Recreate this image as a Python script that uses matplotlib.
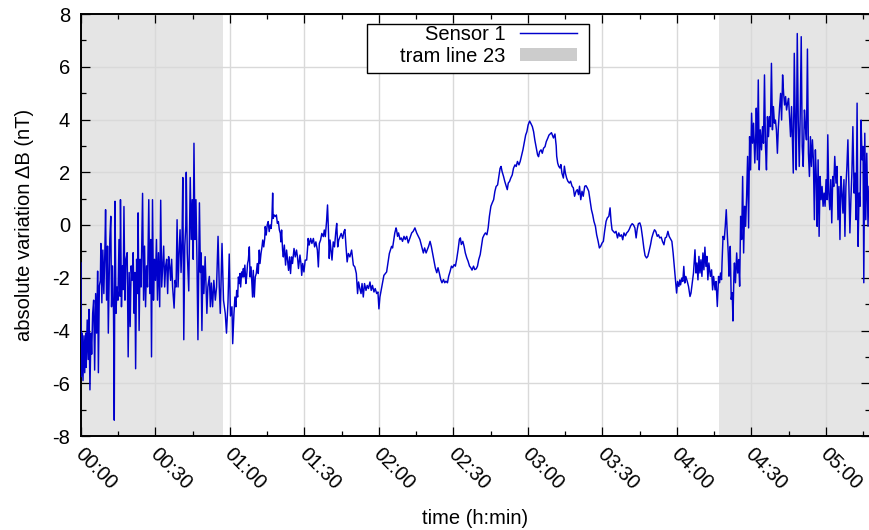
import numpy as np
import matplotlib
matplotlib.use("Agg")
import matplotlib.pyplot as plt
from matplotlib.ticker import MultipleLocator, FuncFormatter
from matplotlib.patches import Patch, Rectangle
from matplotlib.transforms import ScaledTranslation

plt.rcParams['font.family'] = ['Liberation Sans', 'DejaVu Sans']
plt.rcParams['axes.unicode_minus'] = False

# ---- magnetometer record, time in minutes since 00:00, dB in nT ----
# first tram period
t_early = [0, 0.13, 0.5, 0.8, 1.2, 1.5, 1.9, 2.1, 2.5, 2.9,
           3.2, 3.6, 4.0, 4.3, 4.7, 5.1, 5.5, 5.9, 6.3, 6.7,
           7.0, 7.4, 7.8, 8.0, 8.4, 8.8, 9.2, 9.6, 9.9, 10.3,
           10.7, 11.0, 11.4, 11.6, 12.0, 12.3, 12.7, 13.1, 13.4, 13.7,
           14.1, 14.5, 14.9, 15.3, 15.7, 15.9, 16.3, 16.7, 17.0, 17.3,
           17.7, 18.1, 18.6, 19.0, 19.4, 19.8, 20.2, 20.6, 21.0, 21.4,
           21.7, 22.0, 22.4, 22.8, 23.0, 23.4, 23.8, 24.2, 24.5, 24.8,
           25.2, 25.6, 26.0, 26.4, 26.8, 27.3, 27.7, 28.1, 28.4, 28.8,
           29.2, 29.6, 30.0, 30.4, 30.8, 31.2, 31.7, 32.1, 32.5, 32.9,
           33.3, 33.7, 34.1, 34.5, 34.9, 35.3, 35.7, 36.1, 36.5, 36.9,
           37.5, 37.9, 38.3, 38.7, 39.1, 39.5, 39.9, 40.3, 40.7, 41.0,
           41.4, 41.8, 42.2, 42.4, 42.8, 43.4, 43.8, 44.0, 44.4, 44.8,
           45.2, 45.5, 45.9, 46.3, 46.7, 47.1, 47.7, 48.1, 48.3, 48.7,
           49.1, 49.5, 50.0, 50.7, 51.1, 51.7, 52.1, 52.5, 53.0, 53.5,
           54.1, 54.6, 55.2, 55.7, 56.1, 56.8, 57.4, 58.1, 58.6, 59.2,
           59.7, 60.2, 60.8]
dB_early = [-1.44, -5.75, -4.1, -5.9, -4.2, -5.6, -4.1, -5.4, -3.6, -5.1,
            -3.2, -6.25, -4.1, -4.9, -3.35, -2.85, -5.5, -2.6, -4.1, -1.75,
            -5.6, -2.3, -2.1, -0.7, -2.95, -0.95, -2.6, -1.05, 0.58, -2.85,
            -0.8, -4.1, -1.55, -0.55, 0.33, -3.1, -1.55, -3.35, -7.4, 0.9,
            -3.35, -2.35, -2.85, -0.55, -2.7, 0.96, -3.1, -1.55, -2.45, 0.7,
            -2.85, -1.3, -1.05, -5.0, -1.8, -3.85, -1.55, -2.1, -1.05, -3.35,
            -1.8, -5.45, -1.3, -2.6, 0.46, -4.0, -1.3, -2.35, -0.55, 1.2,
            -2.85, -0.8, -3.1, -1.55, -2.35, 0.96, -2.6, -0.55, -5.0, 0.96,
            -2.85, -1.3, -2.1, -0.55, -2.85, -1.05, -3.1, 0.94, -2.35, -1.55,
            -0.8, -2.35, -1.55, -1.3, -2.6, -1.2, -1.55, -2.1, -1.3, -2.35,
            -3.15, -2.1, -2.35, 0.2, -2.35, -1.05, -0.18, -1.8, -0.55, 1.8,
            -4.35, -0.8, -0.05, 2.0, -1.05, -2.5, 0.2, 1.8, -0.55, 0.96,
            -1.3, 3.1, -0.55, 0.96, -1.3, -4.35, 0.84, -1.8, -1.05, -4.0,
            -1.55, -2.6, -1.2, -3.35, -2.35, -1.95, -3.1, -2.2, -3.1, -2.1,
            -2.85, -2.35, -0.43, -2.35, -3.35, -0.7, -2.85, -3.35, -4.1, -2.95,
            -1.1, -3.45, -3.1]

# quiet interval between tram periods
t_quiet = [61.1, 61.6, 62.0, 62.4, 62.7, 63.1, 63.4, 63.8, 64.0, 64.3,
           64.7, 65.1, 65.4, 65.6, 66.0, 66.4, 66.7, 67.1, 67.4, 67.8,
           68.1, 68.5, 68.9, 69.1, 69.4, 69.8, 70.2, 70.6, 71.0, 71.4,
           71.8, 72.1, 72.5, 72.9, 73.2, 73.6, 74.0, 74.2, 74.6, 75.0,
           75.4, 75.8, 76.2, 76.6, 76.9, 77.2, 77.4, 77.8, 78.3, 78.7,
           79.1, 79.5, 79.9, 80.3, 80.5, 80.8, 81.2, 81.5, 81.9, 82.4,
           82.8, 83.2, 83.6, 84.0, 84.4, 84.8, 85.2, 85.8, 86.3, 86.8,
           87.2, 87.6, 88.2, 88.6, 88.9, 89.3, 89.8, 90.3, 90.9, 91.3,
           91.5, 91.9, 92.5, 93.0, 93.6, 94.1, 94.6, 95.2, 95.6, 96.0,
           96.5, 97.0, 97.6, 98.0, 98.4, 98.9, 99.3, 99.7, 100.0, 100.3,
           100.7, 101.1, 101.6, 102.1, 102.7, 103.0, 103.4, 103.8, 104.3, 104.8,
           105.4, 105.9, 106.3, 106.7, 107.2, 107.7, 108.3, 109.0, 109.7, 110.3,
           110.9, 111.4, 111.8, 112.3, 112.8, 113.2, 113.7, 114.2, 114.8, 115.3,
           115.8, 116.4, 116.9, 117.4, 118.0, 118.5, 119.1, 119.6, 120.0, 120.4,
           120.9, 121.5, 122.0, 122.6, 123.1, 123.6, 124.2,
           125.1, 125.5, 126.0, 126.4, 126.9, 127.1, 127.5, 127.9, 128.5, 129.0,
           129.5, 130.1, 130.6, 131.2, 131.8, 132.5, 133.2, 133.8, 134.5, 135.2,
           135.9, 136.5, 137.2, 137.9, 138.4, 139.0, 139.5, 140.0, 140.6, 141.1,
           141.7, 142.2, 142.7, 143.3, 143.8, 144.3, 144.9, 145.4, 146.0, 146.5,
           147.0, 147.6, 148.1, 148.7, 149.2, 149.7, 150.3, 150.8, 151.3, 151.9,
           152.4, 152.8, 153.2, 153.8, 154.3, 154.8, 155.4, 155.9, 156.5, 157.0,
           157.5, 158.1, 158.6, 159.2, 159.7, 160.2, 160.8, 161.3, 161.8, 162.4,
           162.9, 163.5, 164.0, 164.5, 165.1, 165.6, 166.2, 166.7, 167.2, 167.8,
           168.3, 168.8, 169.2, 169.6, 170.2, 170.7, 171.3, 171.7, 172.1, 172.6,
           173.1, 173.7, 174.2, 174.8, 175.3, 175.8, 176.4, 176.9, 177.5, 178.0,
           178.5, 179.1, 179.6, 180.1, 180.7, 181.2, 181.8, 182.3, 182.8, 183.4,
           183.9, 184.3, 184.7, 185.3, 185.8, 186.3, 186.9, 187.4, 188.0, 188.5,
           189.5, 190.3, 190.9, 191.4,
           191.6, 192.0, 192.4, 192.9, 193.3, 193.7, 194.3, 194.7, 195.1, 195.6,
           196.1, 196.7, 197.2, 197.8, 198.3, 198.8, 199.4, 199.9, 200.4, 200.8,
           201.3, 201.8, 202.3, 202.9, 203.4, 203.9, 204.5, 205.0, 205.6, 206.1,
           206.6, 207.2, 207.7, 208.3, 208.8, 209.3, 209.9, 210.4, 210.9, 211.5,
           212.0, 212.6, 213.1, 213.5, 213.9, 214.4, 215.0, 215.5, 216.1, 216.6,
           217.1, 217.7, 218.2, 218.7, 219.3, 219.8, 220.4, 220.9, 221.4, 222.0,
           222.5, 223.1, 223.6, 224.0, 224.5, 225.1, 225.6, 226.2, 226.7, 227.2,
           227.8, 228.3, 228.8, 229.4, 229.9, 230.5, 231.0, 231.5, 232.1, 232.6,
           233.1, 233.7, 234.2, 234.8, 235.3, 235.8, 236.4, 236.9, 237.5, 238.0,
           238.5, 239.1, 239.5, 239.9, 240.3, 240.8, 241.2, 241.5, 242.0, 242.4,
           242.8, 243.2, 243.6, 244.2, 244.7, 245.3, 245.7, 246.2, 246.7, 247.3,
           247.7, 248.1, 248.5, 248.9, 249.3, 249.7, 250.1, 250.5, 250.9, 251.3,
           251.7, 252.1, 252.5, 252.9, 253.5, 254.0, 254.4, 254.8, 255.4, 255.8,
           256.3, 256.8]
dB_quiet = [-4.5, -3.37, -2.73, -3.1, -2.48, -2.73, -1.97, -2.22, -1.84, -2.35,
            -1.78, -1.97, -1.65, -1.97, -1.52, -2.22, -1.97, -1.46, -1.33, -0.83,
            -1.97, -1.59, -2.35, -2.73, -1.72, -2.73, -1.97, -1.84, -1.46, -1.84,
            -0.95, -1.46, -1.08, -0.83, -0.57, -0.83, -0.51, -0.06, -0.38, 0.0,
            0.13, -0.25, 0.0, -0.13, 0.25, 1.21, 0.25, 0.38, 0.32, 0.38,
            0.06, 0.13, -0.19, -0.32, -0.64, -0.19, -0.95, -1.21, -0.76, -1.52,
            -0.95, -1.33, -1.72, -1.21, -1.84, -1.21, -1.46, -0.89, -1.21, -0.95,
            -1.21, -1.65, -1.14, -1.46, -1.91, -1.46, -1.78, -1.33, -1.33, -0.83,
            -0.51, -0.76, -0.51, -0.70, -0.51, -0.83, -0.64, -0.95, -1.59, -0.70,
            -0.57, -0.32, -0.44, -0.19, -0.44, 0.13, 0.76, -0.32, -1.27, -0.57,
            -0.95, -1.33, -0.64, -0.83, -0.19, 0.06, -0.83, -0.57, -0.44, -0.32,
            -0.51, -0.25, -0.17, -0.76, -1.4, -1.08, -1.21, -0.95, -1.52, -1.59,
            -1.84, -2.6, -2.16, -2.41, -2.6, -2.22, -2.73, -2.22, -2.48, -2.29,
            -2.41, -2.16, -2.48, -2.29, -2.54, -2.41, -2.6, -2.54, -3.18, -2.73,
            -2.48, -2.16, -1.91, -1.84, -1.78, -1.46, -1.08,
            -0.81, -0.87, -0.55, -0.30, -0.11, -0.18, -0.43, -0.30, -0.55, -0.49,
            -0.62, -0.43, -0.55, -0.43, -0.68, -0.49, -0.30, -0.24, -0.11, -0.30,
            -0.43, -0.55, -0.81, -1.06, -0.87, -1.06, -0.93, -0.81, -0.62, -0.81,
            -1.12, -1.37, -1.62, -1.81, -1.62, -1.81, -2.07, -2.19, -2.07, -2.19,
            -2.13, -2.19, -1.94, -1.75, -1.56, -1.62, -1.50, -1.56, -1.31, -0.93,
            -0.55, -0.49, -0.74, -0.62, -0.81, -1.06, -1.25, -1.37, -1.56, -1.62,
            -1.71, -1.56, -1.69, -1.66, -1.56, -1.31, -1.12, -0.81, -0.49, -0.37,
            -0.30, -0.37, -0.11, 0.33, 0.71, 0.83, 0.96, 1.27, 1.46, 1.52,
            1.84, 2.15, 2.22, 2.03, 1.84, 1.65, 1.46, 1.34, 1.59, 1.65,
            1.78, 1.90, 2.15, 2.28, 2.22, 2.41, 2.28, 2.41, 2.66, 2.85,
            3.10, 3.41, 3.54, 3.79, 3.94, 3.85, 3.73, 3.54, 3.22, 2.91,
            2.66, 2.59, 2.78, 2.85, 2.72, 2.91, 2.97, 3.16, 3.29, 3.41,
            3.5, 3.3, 3.45, 3.0,
            2.61, 2.35, 2.23, 2.16, 2.29, 1.97, 1.78, 2.23, 1.97, 1.78,
            1.66, 1.59, 1.66, 1.47, 1.41, 1.09, 1.28, 1.34, 1.15, 1.47,
            0.96, 1.28, 1.09, 1.47, 1.49, 1.41, 1.28, 0.96, 0.58, 0.39,
            0.14, -0.05, -0.37, -0.62, -0.87, -0.81, -0.68, -0.62, -0.24, 0.14,
            0.27, 0.33, 0.65, 0.14, -0.18, -0.24, -0.30, -0.24, -0.49, -0.30,
            -0.43, -0.37, -0.56, -0.30, -0.41, -0.30, -0.24, -0.15, -0.03, 0.05,
            0.01, -0.11, -0.49, -0.18, 0.05, 0.08, -0.08, -0.49, -0.87, -1.16,
            -1.25, -1.19, -1.00, -0.75, -0.49, -0.30, -0.18, -0.24, -0.43, -0.37,
            -0.49, -0.46, -0.62, -0.75, -0.49, -0.46, -0.24, -0.43, -0.53, -0.62,
            -1.06, -1.70, -2.14, -2.58, -2.14, -2.33, -2.08, -2.27, -2.01, -2.14,
            -1.57, -2.20, -1.95, -2.14, -2.33, -2.71, -2.58, -2.20, -1.82, -0.94,
            -1.82, -1.44, -2.08, -1.19, -1.82, -1.32, -1.95, -1.06, -1.70, -0.84,
            -1.57, -1.19, -2.08, -1.44, -1.95, -1.70, -2.46, -1.95, -2.46, -2.14,
            -3.09, -1.95]

# second tram period
t_late = [257.2, 257.6, 258.0, 258.2, 258.6, 259.1, 259.5, 259.9, 260.3, 260.7,
          261.0, 261.2, 261.5, 261.9, 262.3, 262.6, 263.0, 263.2, 263.6, 264.1,
          264.5, 264.9, 265.3, 265.7, 266.1, 266.5, 266.9, 267.3, 267.7, 268.1,
          268.5, 268.9, 269.3, 269.7, 270.1, 270.5, 270.9, 271.4, 271.8, 272.0,
          272.4, 272.8, 273.2, 273.6, 274.1, 274.5, 274.9, 275.3, 275.7, 276.1,
          276.5, 276.9, 277.3, 277.7, 278.1, 278.5, 278.9, 279.3, 279.7, 280.1,
          280.5, 280.9, 281.4, 281.8, 282.2, 282.6, 283.0, 283.4, 283.8, 284.2,
          284.6, 285.0, 285.4, 285.8, 286.2, 286.6, 286.9, 287.3, 287.7, 288.1,
          288.5, 288.9, 289.3, 289.7, 290.1, 290.5, 290.9, 291.4, 291.8, 292.2,
          292.6, 293.0, 293.4, 293.8, 294.2, 294.6, 295.0, 295.4, 295.8, 296.2,
          296.5, 296.9, 297.3, 297.7, 298.1, 298.5, 298.9, 299.3, 299.7, 300.1,
          300.5, 300.8, 301.2, 301.6, 302.0, 302.4, 302.8, 303.2, 303.6, 304.1,
          304.5, 304.9, 305.3, 305.7, 306.1, 306.5, 306.9, 307.3, 307.7, 308.1,
          308.5, 308.9, 309.3, 309.7, 310.1, 310.5, 310.9, 311.4, 311.8, 312.2,
          312.6, 313.0, 313.4, 313.8, 314.2, 314.6, 315.0, 315.3, 315.7, 316.1,
          316.5, 317.0, 317.4]
dB_late = [-2.19, -1.82, -2.07, -1.44, -0.43, -0.55, -0.05, 0.58, -0.30, -1.06,
           -1.94, -1.56, -0.81, -2.82, -2.57, -3.64, -1.82, -1.44, -2.19, -1.06,
           -1.82, -1.31, -2.32, 0.33, -0.55, 1.84, -1.06, 0.71, -0.05, 1.08,
           2.60, -0.11, 3.35, 2.09, 4.24, 3.10, 3.86, 2.35, 3.48, 4.43,
           2.47, 5.50, 2.09, 3.61, 2.85, 3.73, 3.10, 5.69, 2.98, 2.09,
           4.11, 3.35, 4.11, 3.73, 6.13, 3.61, 4.49, 3.86, 3.98, 3.61,
           2.72, 3.73, 4.49, 4.99, 3.98, 5.69, 4.99, 4.55, 4.87, 4.36,
           4.62, 4.80, 4.11, 3.35, 4.49, 2.98, 1.97, 6.51, 3.98, 2.09,
           7.26, 3.98, 2.22, 4.24, 7.14, 2.98, 2.22, 4.36, 3.73, 3.23,
           6.67, 2.72, 1.84, 3.35, 2.22, 3.23, 2.47, 0.20, 2.85, 1.72,
           -0.05, 2.47, -0.43, 1.84, 0.96, 1.46, 0.71, 1.21, 0.71, 1.72,
           0.96, 3.42, 1.21, 0.58, 1.72, 0.08, 1.84, 1.46, 2.60, 1.59,
           2.22, 0.20, 1.46, -0.55, 1.84, 1.21, 0.45, 1.72, -0.43, 1.46,
           2.22, 3.23, 1.46, -0.30, 0.96, 1.97, 3.73, 1.21, 1.97, 0.20,
           4.62, -0.81, 1.21, 0.71, 3.98, 2.47, 2.98, -2.19, 3.48, 0.20,
           2.72, -0.05, 1.46]

# periods during which tram line 23 was running (minutes)
tram_start = [0.0, 257.0]
tram_end = [57.2, 320.0]

t_all = np.concatenate([t_early, t_quiet, t_late])
dB_all = np.concatenate([dB_early, dB_quiet, dB_late])

FS = 14.5

fig = plt.figure(figsize=(8.69, 5.30), dpi=100)
ax = fig.add_axes([81 / 869, 94 / 530, 789 / 869, 422 / 530])

for a, b in zip(tram_start, tram_end):
    ax.axvspan(a, b, color='#e5e5e5', lw=0, zorder=0)

line, = ax.plot(t_all, dB_all, color='#0000cc', lw=1.05, zorder=3)

ax.set_xlim(0, 317.8)
ax.set_ylim(-8, 8)

ax.xaxis.set_major_locator(MultipleLocator(30))
ax.xaxis.set_minor_locator(MultipleLocator(15))
ax.yaxis.set_major_locator(MultipleLocator(2))
ax.yaxis.set_minor_locator(MultipleLocator(1))
ax.xaxis.set_major_formatter(FuncFormatter(lambda v, p: f"{int(v) // 60:02d}:{int(v) % 60:02d}"))
ax.yaxis.set_major_formatter(FuncFormatter(lambda v, p: f"{int(round(v))}"))

ax.grid(True, which='major', color='#d9d9d9', lw=1.0, zorder=1)
ax.set_axisbelow(True)

ax.tick_params(which='both', direction='in', top=True, right=True, width=0.9, colors='black')
ax.tick_params(which='major', length=6.5)
ax.tick_params(which='minor', length=3.6)
ax.tick_params(axis='y', labelsize=FS, pad=8)
ax.tick_params(axis='x', labelsize=FS, pad=6)

# slanted time labels, nudged a little to the right of their ticks
nudge = ScaledTranslation(4 / 100, 0, fig.dpi_scale_trans)
for tick in ax.xaxis.get_major_ticks():
    lbl = tick.label1
    lbl.set_rotation(-45)
    lbl.set_ha('left')
    lbl.set_va('top')
    lbl.set_rotation_mode('anchor')
    lbl.set_transform(lbl.get_transform() + nudge)

for s in ax.spines.values():
    s.set_linewidth(1.4)

ax.set_xlabel('time (h:min)', fontsize=FS, labelpad=11)
ax.set_ylabel('absolute variation \u0394B (nT)', fontsize=FS, labelpad=13)

# legend: labels right-aligned, samples on the right, in a plain box
ax.add_patch(Rectangle((0.3629, 0.8595), 0.2813, 0.1168, transform=ax.transAxes,
                       facecolor='white', edgecolor='black', lw=1.0, zorder=4))
tram_patch = Patch(facecolor='#cccccc', edgecolor='none')
leg = ax.legend([line, tram_patch], ['Sensor 1', 'tram line 23'],
                loc='upper right', bbox_to_anchor=(0.6286, 0.9735),
                markerfirst=False, frameon=False, fontsize=FS,
                handlelength=2.85, handleheight=0.65, handletextpad=0.7,
                labelspacing=0.12, borderpad=0, borderaxespad=0)
leg.set_zorder(5)

fig.savefig('out.png', dpi=100)
